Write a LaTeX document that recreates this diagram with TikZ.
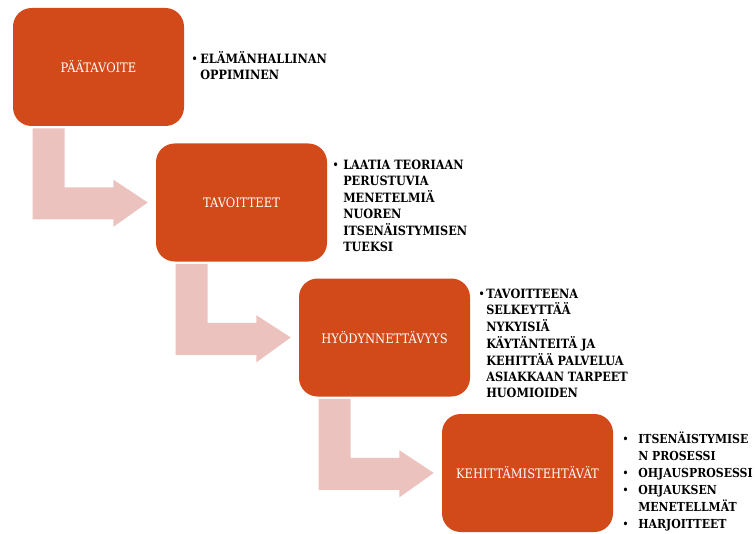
\documentclass[tikz,border=0pt]{standalone}
\usepackage{fontspec}
\setmainfont{DejaVu Serif}[FakeStretch=0.88]
\usetikzlibrary{calc}
\definecolor{boxorange}{HTML}{D24A1A}
\definecolor{arrowpink}{HTML}{EBC2BE}
\newcommand\mybul[1]{\makebox[\dimexpr #1pt*3/4\relax][l]{\mdseries\textbullet}}
\newcommand\myind[1]{\hspace*{\dimexpr #1pt*3/4\relax}}
\newcommand\bentarrow[2]{%
  \begin{scope}[shift={(#1.south west)}]
    \fill[arrowpink] (20,2) -- (52,2) -- (52,61) -- (100.7,61) -- (100.7,53.5)
      -- ($(#2.west)+(-8,0)$) -- (100.7,100.5) -- (100.7,93) -- (20,93) -- cycle;
  \end{scope}}
\begin{document}
\begin{tikzpicture}[x=0.75pt,y=-0.75pt,
  box/.style={fill=boxorange, rounded corners=14pt, minimum width=128.25pt,
    minimum height=88.5pt, inner sep=0pt, text=white,
    font=\fontsize{9.8}{12}\selectfont},
  bultext/.style={inner sep=0pt, anchor=base west, text=black,
    font=\fontsize{9.6}{12}\selectfont\bfseries},
  bultextb/.style={bultext, font=\fontsize{9.3}{12.75}\selectfont\bfseries}]
\useasboundingbox (0,0) rectangle (755,534);
\node[box] (b1) at (98.5,67) {PÄÄTAVOITE};
\node[box] (b2) at (241.5,202.5) {TAVOITTEET};
\node[box] (b3) at (384.5,337.5) {HYÖDYNNETTÄVYYS};
\node[box] (b4) at (527.5,473) {KEHITTÄMISTEHTÄVÄT};
\bentarrow{b1}{b2}
\bentarrow{b2}{b3}
\bentarrow{b3}{b4}
\node[bultext] (t1) at (191,64) {\begin{tabular}[t]{@{}l@{}}\mybul{9}ELÄMÄNHALLINAN\\\myind{9}OPPIMINEN\end{tabular}};
\node[bultext] (t2) at (332,170) {\begin{tabular}[t]{@{}l@{}}\mybul{11}LAATIA TEORIAAN\\\myind{11}PERUSTUVIA\\\myind{11}MENETELMIÄ\\\myind{11}NUOREN\\\myind{11}ITSENÄISTYMISEN\\\myind{11}TUEKSI\end{tabular}};
\node[bultext] (t3) at (478,298) {\begin{tabular}[t]{@{}l@{}}\mybul{8}TAVOITTEENA\\\myind{8}SELKEYTTÄÄ\\\myind{8}NYKYISIÄ\\\myind{8}KÄYTÄNTEITÄ JA\\\myind{8}KEHITTÄÄ PALVELUA\\\myind{8}ASIAKKAAN TARPEET\\\myind{8}HUOMIOIDEN\end{tabular}};
\node[bultextb] (t4) at (622,443.5) {\begin{tabular}[t]{@{}l@{}}\mybul{16}ITSENÄISTYMISE\\\myind{16}N PROSESSI\\\mybul{16}OHJAUSPROSESSI\\\mybul{16}OHJAUKSEN\\\myind{16}MENETELLMÄT\\\mybul{16}HARJOITTEET\end{tabular}};
\end{tikzpicture}
\end{document}
